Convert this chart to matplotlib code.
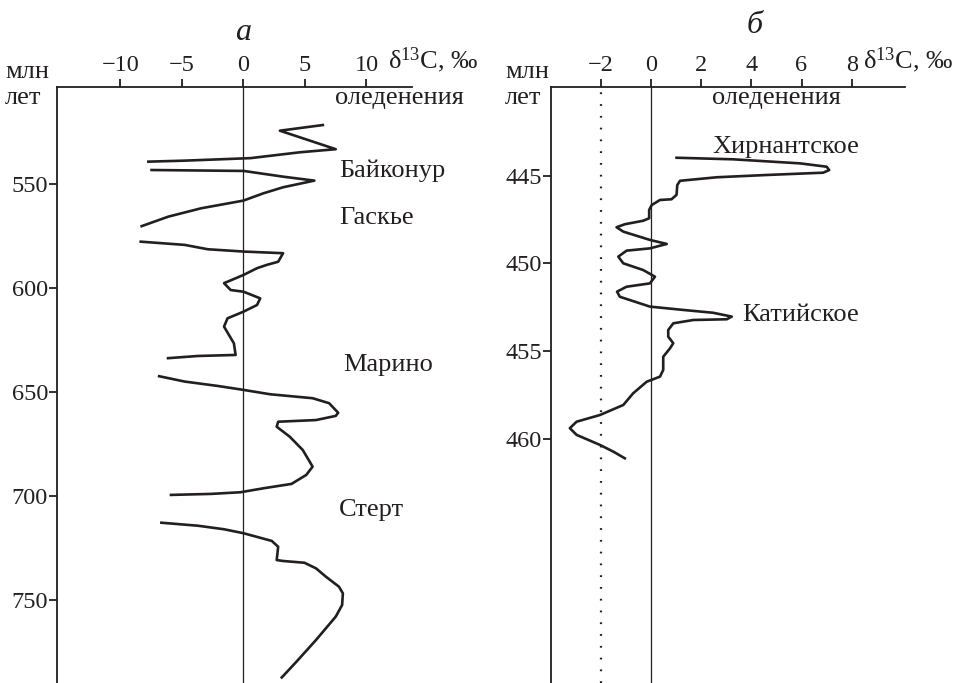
import matplotlib
matplotlib.use("Agg")
import matplotlib.pyplot as plt

plt.rcParams['font.family'] = ['Liberation Serif', 'DejaVu Serif']
plt.rcParams['mathtext.fontset'] = 'custom'
plt.rcParams['mathtext.rm'] = 'Liberation Serif'
plt.rcParams['mathtext.it'] = 'Liberation Serif:italic'

INK = '#231f20'

# panel a: d13C (permil) vs age (Ma), drawn as separate segments
a_segments = [
    ([6.56, 2.96, 7.5, 4.56, 0.56, -4.78, -7.84],
     [521.6, 524.4, 533.3, 534.8, 537.6, 538.8, 539.3]),
    ([-7.58, 0.02, 3.22, 5.76, 3.22, 1.62, 0.0, -3.44, -6.1, -8.38],
     [543.3, 543.75, 546.5, 548.4, 551.6, 554.5, 558.0, 561.7, 565.7, 570.5]),
    ([-8.46, -4.78, -2.9, 0.0, 3.22, 2.82, 1.9, 1.1, 0.0, -1.58, -1.04, 0.0,
      1.36, 1.1, 0.0, -1.3, -1.58, -0.78, -0.64, -3.7, -6.24],
     [577.7, 579.3, 581.4, 582.5, 583.3, 587.4, 588.9, 590.5, 593.75, 597.7,
      601.0, 601.8, 605.0, 608.2, 611.4, 614.6, 618.6, 626.6, 632.2, 632.7, 633.8]),
    ([-6.96, -4.78, -2.1, 0.0, 2.16, 5.62, 6.96, 7.7, 7.5, 5.9, 2.82, 2.7,
      3.76, 4.82, 5.62, 5.1, 3.9, 1.62, -0.24, -2.64, -6.0],
     [642.3, 645.0, 647.1, 649.0, 651.1, 653.0, 655.4, 660.0, 661.5, 663.5,
      664.3, 666.7, 671.5, 677.9, 685.9, 689.9, 694.2, 696.3, 698.2, 699.0, 699.5]),
    ([-6.78, -3.7, -1.58, 0.0, 2.3, 2.82, 2.7, 3.22, 4.96, 5.9, 6.7, 7.76,
      8.08, 8.02, 7.5, 5.9, 4.3, 3.04],
     [712.8, 714.3, 716.0, 717.9, 721.6, 724.4, 730.8, 731.25, 732.1, 734.8,
      738.8, 743.6, 746.8, 752.4, 758.0, 769.2, 779.7, 787.7]),
]
a_xticks = [-10, -5, 0, 5, 10]
a_yticks = [550, 600, 650, 700, 750]
a_labels = ['Байконур', 'Гаскье', 'Марино', 'Стерт']
a_label_pos = [(7.76, 543.8), (7.76, 566.3), (8.1, 637.0), (7.76, 706.7)]

# panel b
b_d13c = [1.02, 3.28, 5.94, 7.0, 7.1, 6.86, 4.61, 2.62, 1.16, 1.05, 1.02, 0.82,
          0.36, 0.03, -0.07, -0.07, -0.31, -1.04, -1.37, -1.1, -0.04, 0.63,
          -0.04, -0.97, -1.3, -1.1, -0.31, 0.16, -0.04, -0.97, -1.35, -1.24,
          -0.04, 1.29, 2.48, 3.22, 3.02, 1.69, 0.89, 0.69, 0.69, 0.89, 0.76,
          0.49, 0.49, 0.36, -0.17, -0.71, -1.1, -2.03, -2.96, -3.23, -2.96,
          -2.03, -1.5, -1.04]
b_age = [443.99, 444.08, 444.31, 444.5, 444.69, 444.84, 444.97, 445.1, 445.3,
         445.54, 446.1, 446.35, 446.39, 446.68, 446.96, 447.43, 447.57, 447.77,
         447.94, 448.19, 448.66, 448.89, 449.14, 449.27, 449.61, 449.99, 450.37,
         450.75, 451.13, 451.32, 451.6, 451.89, 452.45, 452.64, 452.8, 453.02,
         453.17, 453.21, 453.4, 453.78, 454.16, 454.53, 454.82, 455.3, 456.05,
         456.43, 456.72, 457.38, 458.04, 458.61, 458.99, 459.36, 459.74, 460.31,
         460.69, 461.07]
b_xticks = [-2, 0, 2, 4, 6, 8]
b_yticks = [445, 450, 455, 460]
b_labels = ['Хирнантское', 'Катийское']
b_label_pos = [(2.43, 443.4), (3.63, 452.9)]

FS_TICK = 17.5
FS = 19

fig = plt.figure(figsize=(9.56, 6.83), dpi=100)
axa = fig.add_axes([57 / 956, 0, 355 / 956, 596 / 683])
axb = fig.add_axes([551 / 956, 0, 354 / 956, 596 / 683])


def style(ax, xlim, ylim, xticks, yticks):
    ax.set_xlim(*xlim)
    ax.set_ylim(*ylim)
    ax.xaxis.tick_top()
    ax.set_xticks(xticks)
    ax.set_yticks(yticks)
    for s in ['right', 'bottom']:
        ax.spines[s].set_visible(False)
    for s in ['left', 'top']:
        ax.spines[s].set_linewidth(1.3)
        ax.spines[s].set_color(INK)
    ax.tick_params(axis='x', direction='out', length=6, width=1.3, pad=2,
                   labelsize=FS_TICK, colors=INK)
    ax.tick_params(axis='y', direction='out', length=6, width=1.3, pad=0.5,
                   labelsize=FS_TICK, colors=INK)
    ax.axvline(0, color=INK, lw=0.9)
    ax.set_facecolor('none')


style(axa, (-15.16, 13.7), (789.9, 503.4), a_xticks, a_yticks)
style(axb, (-3.98, 10.12), (473.84, 439.97), b_xticks, b_yticks)

for xs, ys in a_segments:
    axa.plot(xs, ys, color=INK, lw=1.9, solid_capstyle='butt')
axb.plot(b_d13c, b_age, color=INK, lw=1.9)
axb.axvline(-2, color=INK, lw=1.6, linestyle=(0, (0.8, 4.5)))

for t, (x, y) in zip(a_labels, a_label_pos):
    axa.text(x, y, t, fontsize=FS, color=INK, va='center', ha='left', clip_on=False)
for t, (x, y) in zip(b_labels, b_label_pos):
    axb.text(x, y, t, fontsize=FS, color=INK, va='center', ha='left', clip_on=False)

axa.text(7.4, 508.7, 'оледенения', fontsize=FS, color=INK, va='center', ha='left')
axb.text(2.43, 440.6, 'оледенения', fontsize=FS, color=INK, va='center', ha='left')

for ax, x0, dx in [(axa, 11.75, -0.146), (axb, 8.45, -0.13)]:
    tr = ax.get_xaxis_transform()
    ax.text(x0, 1.045, 'δ$^{13}$C, ‰', transform=tr, fontsize=FS, color=INK,
            va='center', ha='left', clip_on=False)
    ax.text(dx, 1.025, 'млн', transform=ax.transAxes, fontsize=FS, color=INK,
            va='center', ha='left', clip_on=False)
    ax.text(dx, 0.982, 'лет', transform=ax.transAxes, fontsize=FS, color=INK,
            va='center', ha='left', clip_on=False)

axa.text(0, 1.092, 'а', transform=axa.get_xaxis_transform(), fontsize=23,
         style='italic', color=INK, ha='center', va='center')
axb.text(4.14, 1.104, 'б', transform=axb.get_xaxis_transform(), fontsize=23,
         style='italic', color=INK, ha='center', va='center')

fig.savefig('out.png', dpi=100)
